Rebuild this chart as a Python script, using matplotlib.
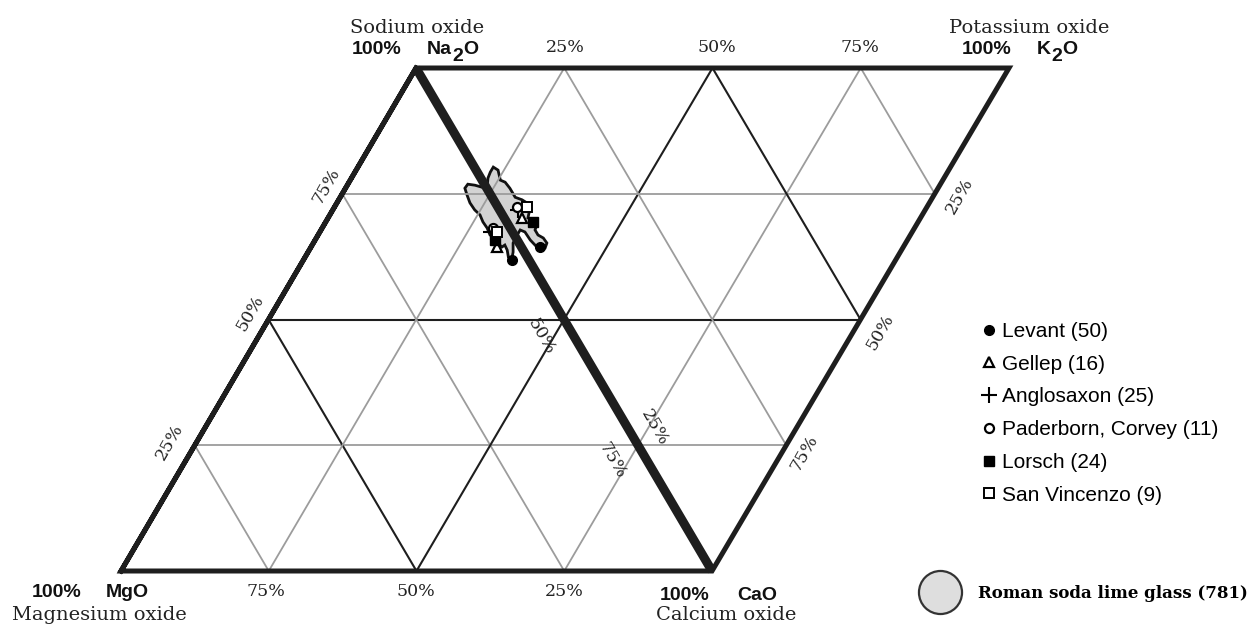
import matplotlib
matplotlib.use("Agg")
import matplotlib.pyplot as plt
from matplotlib.lines import Line2D
import numpy as np

# corner positions of the two ternary triangles (canvas units)
VERT = {"Na2O": (416, 68), "MgO": (121, 571), "CaO": (712, 571), "K2O": (1009, 68)}
LEFT_TRI = ("Na2O", "MgO", "CaO")
RIGHT_TRI = ("Na2O", "CaO", "K2O")
GRID_LEVELS = [25, 50, 75]

# outline of the Roman soda lime glass field, in % (Na2O, MgO, CaO, K2O)
roman_na = [77.1, 76.0, 74.6, 73.6, 72.2, 70.4, 69.0, 67.9, 66.7, 66.2, 65.1, 64.0, 63.8, 62.8,
            61.6, 60.5, 60.3, 61.0, 62.3, 63.6, 65.3, 66.3, 66.3, 65.2, 63.4, 62.2, 62.4, 63.8,
            64.8, 64.4, 65.2, 66.2, 66.8, 68.2, 69.4, 70.8, 71.8, 73.2, 74.8, 76.1, 76.9, 76.7,
            76.3, 76.3, 76.9, 77.1]
roman_mg = [0, 0, 0, 0, 0, 0, 0, 0, 0, 0, 0, 0, 0, 0,
            0, 0, 0, 0, 0, 0, 0, 0, 0, 1.0, 1.9, 2.7, 3.2, 2.7,
            2.6, 3.3, 3.6, 3.6, 4.1, 3.9, 4.0, 3.8, 4.2, 4.3, 4.0, 3.7, 2.8, 1.7,
            0.7, 0, 0, 0]
roman_ca = [19.7, 20.3, 22.3, 22.7, 23.9, 25.7, 26.2, 26.8, 28.2, 29.8, 30.2, 31.2, 32.2, 33.2,
            33.8, 34.8, 35.8, 36.2, 35.2, 34.2, 32.6, 32.2, 33.2, 33.8, 34.7, 35.1, 34.4, 33.5,
            32.6, 32.3, 31.2, 30.2, 29.1, 27.9, 26.6, 25.4, 24.0, 22.5, 21.2, 20.2, 20.3, 21.6,
            23.0, 23.3, 21.9, 20.7]
roman_k = [3.2, 3.7, 3.1, 3.7, 3.9, 3.9, 4.8, 5.3, 5.1, 4.0, 4.7, 4.8, 4.0, 4.0,
           4.6, 4.7, 3.9, 2.8, 2.5, 2.2, 2.1, 1.5, 0.5, 0, 0, 0, 0, 0,
           0, 0, 0, 0, 0, 0, 0, 0, 0, 0, 0, 0, 0, 0,
           0, 0.4, 1.2, 2.2]

# sample groups, each point (Na2O, MgO, CaO, K2O) in %
levant = [(61.8, 2.9, 35.3, 0), (61.2, 0, 35.6, 3.2)]
gellep = [(64.4, 4.1, 31.5, 0), (67.2, 0, 29.8, 3.0)]
anglosaxon = [(67.4, 3.6, 29.0, 0), (68.7, 0, 28.2, 3.1)]
paderborn = [(68.2, 2.9, 28.9, 0), (69.2, 0, 27.6, 3.2)]
lorsch = [(65.8, 3.8, 30.4, 0), (64.9, 0, 30.6, 4.5)]
san_vincenzo = [(67.4, 2.6, 30.0, 0), (67.5, 0, 27.6, 4.9)]

group_labels = ["Levant (50)", "Gellep (16)", "Anglosaxon (25)",
                "Paderborn, Corvey (11)", "Lorsch (24)", "San Vincenzo (9)"]
roman_label = "Roman soda lime glass (781)"


def pos(comp):
    x = sum(v / 100 * VERT[k][0] for k, v in comp.items())
    y = sum(v / 100 * VERT[k][1] for k, v in comp.items())
    return x, y


def tern(na, mg, ca, k):
    na, mg, ca, k = [np.asarray(v, float) / 100 for v in (na, mg, ca, k)]
    x = na * VERT["Na2O"][0] + mg * VERT["MgO"][0] + ca * VERT["CaO"][0] + k * VERT["K2O"][0]
    y = na * VERT["Na2O"][1] + mg * VERT["MgO"][1] + ca * VERT["CaO"][1] + k * VERT["K2O"][1]
    return x, y


DARK = "#1e1e1e"
GRAY = "#9c9c9c"
SERIF = "DejaVu Serif"
SANS = "Liberation Sans"

fig = plt.figure(figsize=(12.53, 6.25), dpi=100)
ax = fig.add_axes([0, 0, 1, 1])
ax.set_xlim(0, 1253)
ax.set_ylim(625, 0)
ax.axis("off")

# roman field
bx, by = tern(roman_na, roman_mg, roman_ca, roman_k)
ax.fill(bx, by, facecolor="#d3d3d3", edgecolor="#111111", lw=2, zorder=1)

# grid lines
for tri in (LEFT_TRI, RIGHT_TRI):
    for i in range(3):
        for p in GRID_LEVELS:
            a = pos({tri[i]: p, tri[(i + 1) % 3]: 100 - p})
            b = pos({tri[i]: p, tri[(i + 2) % 3]: 100 - p})
            ax.plot([a[0], b[0]], [a[1], b[1]], color=DARK if p == 50 else GRAY,
                    lw=1.5 if p == 50 else 1.3, zorder=2)

# frame
outer = ["Na2O", "MgO", "CaO", "K2O", "Na2O", "MgO"]
ax.plot([VERT[k][0] for k in outer], [VERT[k][1] for k in outer], color=DARK, lw=3.6,
        solid_joinstyle="miter", zorder=3)
ax.plot([VERT["Na2O"][0], VERT["CaO"][0]], [VERT["Na2O"][1], VERT["CaO"][1]],
        color=DARK, lw=6.5, solid_capstyle="butt", zorder=3)

# sample markers
styles = [dict(marker="o", mfc="black", mec="black", ms=7),
          dict(marker="^", mfc="white", mec="black", ms=7, mew=1.6),
          dict(marker="+", mfc="black", mec="black", ms=11, mew=1.5),
          dict(marker="o", mfc="white", mec="black", ms=6.5, mew=1.6),
          dict(marker="s", mfc="black", mec="black", ms=7),
          dict(marker="s", mfc="white", mec="black", ms=6.5, mew=1.4)]
handles = []
for grp, st in zip([levant, gellep, anglosaxon, paderborn, lorsch, san_vincenzo], styles):
    gx, gy = tern(*zip(*grp))
    h, = ax.plot(gx, gy, ls="none", zorder=4, **st)
    handles.append(h)

leg = ax.legend(handles, group_labels, loc="upper left", bbox_to_anchor=(980, 322),
                bbox_transform=ax.transData, frameon=False, borderpad=0, borderaxespad=0,
                handlelength=0.9, handletextpad=0.15, labelspacing=0.66,
                prop={"family": SANS, "size": 15})
ax.add_artist(leg)
roman_handle = Line2D([], [], ls="none", marker="o", ms=31, mfc="#dedede", mec="#333333", mew=1.6)
ax.legend([roman_handle], [roman_label], loc="center left", bbox_to_anchor=(918, 593),
          bbox_transform=ax.transData, frameon=False, borderpad=0, borderaxespad=0,
          handlelength=2.6, handletextpad=1.0,
          prop={"family": SERIF, "size": 12, "weight": "bold"})

# percentage labels
pct = dict(family=SERIF, size=12.5, ha="center", va="center", color="#222222")
for s, x in zip(["25%", "50%", "75%"], [565, 717, 860]):
    ax.text(x, 48, s, **pct)
for s, x in zip(["75%", "50%", "25%"], [266, 416, 564]):
    ax.text(x, 591, s, **pct)
for s, (x, y) in zip(["75%", "50%", "25%"], [(326, 186), (250, 313), (170, 442)]):
    ax.text(x, y, s, rotation=60, **pct)
for s, (x, y) in zip(["25%", "50%", "75%"], [(960, 196), (880, 332), (804, 453)]):
    ax.text(x, y, s, rotation=60, **pct)
for s, (x, y) in zip(["50%", "25%", "75%"], [(541, 337), (654, 428), (612, 461)]):
    ax.text(x, y, s, rotation=-60, **pct)

# corner labels
name = dict(family=SERIF, size=14, ha="center", va="baseline", color="#222222")
bold = dict(family=SANS, size=14, weight="bold", ha="left", va="baseline", color="#111111")
ax.text(417, 33, "Sodium oxide", **name)
ax.text(1029, 33, "Potassium oxide", **name)
ax.text(99, 620, "Magnesium oxide", **name)
ax.text(726, 620, "Calcium oxide", **name)

ax.text(352, 54, "100%", **bold)
ax.text(427, 54, "Na", **bold)
ax.text(452, 61, "2", **bold)
ax.text(463, 54, "O", **bold)
ax.text(962, 54, "100%", **bold)
ax.text(1037, 54, "K", **bold)
ax.text(1051, 61, "2", **bold)
ax.text(1062, 54, "O", **bold)
ax.text(32, 597, "100%", **bold)
ax.text(106, 597, "MgO", **bold)
ax.text(660, 600, "100%", **bold)
ax.text(737, 600, "CaO", **bold)

fig.savefig("out.png", dpi=100)
